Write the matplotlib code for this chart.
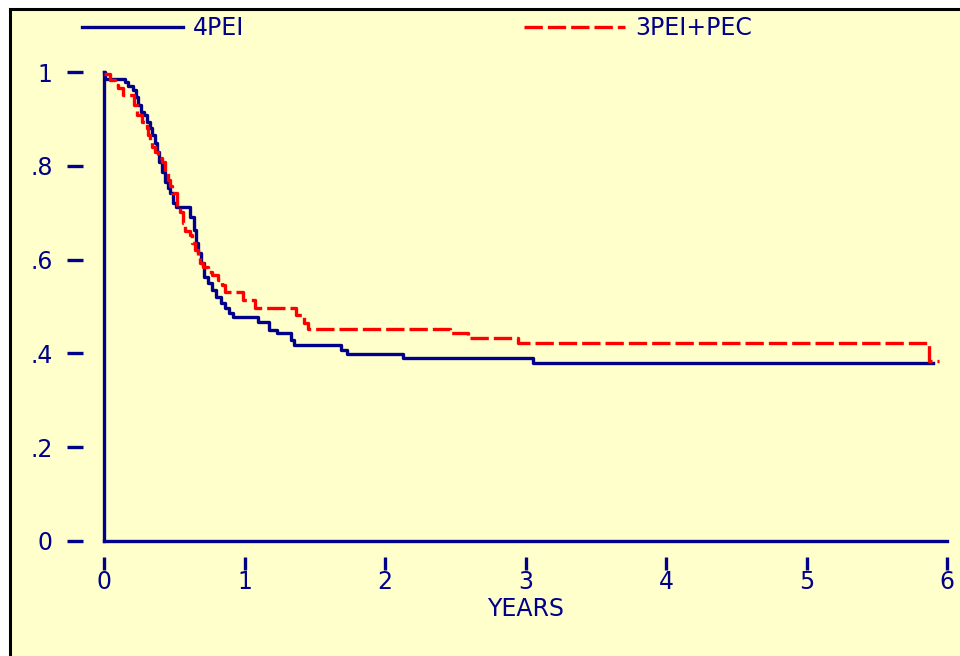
import matplotlib
matplotlib.use("Agg")
import matplotlib.pyplot as plt
from matplotlib.patches import Rectangle
from matplotlib.lines import Line2D

# Kaplan-Meier estimates (time in years, survival after each step)
pei4_t = [0, 0.005, 0.149, 0.171, 0.206, 0.228, 0.242, 0.263, 0.285, 0.306, 0.327, 0.342,
          0.363, 0.377, 0.391, 0.413, 0.434, 0.456, 0.47, 0.491, 0.512, 0.612, 0.641,
          0.655, 0.669, 0.69, 0.712, 0.74, 0.769, 0.797, 0.833, 0.861, 0.89, 0.918,
          1.096, 1.174, 1.231, 1.331, 1.352, 1.69, 1.73, 2.13, 3.05, 5.90]
pei4_s = [1.0, 0.985, 0.979, 0.970, 0.962, 0.946, 0.930, 0.915, 0.908, 0.893, 0.881, 0.866,
          0.849, 0.829, 0.808, 0.787, 0.765, 0.753, 0.742, 0.721, 0.712, 0.691, 0.663,
          0.635, 0.614, 0.593, 0.563, 0.550, 0.535, 0.520, 0.507, 0.497, 0.486, 0.478,
          0.467, 0.450, 0.443, 0.429, 0.418, 0.407, 0.399, 0.390, 0.380, 0.380]

pec_t = [0, 0.04, 0.078, 0.10, 0.137, 0.215, 0.233, 0.268, 0.29, 0.304, 0.315, 0.327,
         0.339, 0.363, 0.387, 0.411, 0.434, 0.458, 0.47, 0.482, 0.517, 0.541, 0.565,
         0.577, 0.612, 0.624, 0.648, 0.671, 0.683, 0.707, 0.742, 0.766, 0.814, 0.837,
         0.861, 0.99, 1.075, 1.37, 1.42, 1.45, 2.46, 2.59, 2.95, 5.87, 5.94]
pec_s = [0.996, 0.983, 0.972, 0.965, 0.951, 0.930, 0.908, 0.894, 0.889, 0.880, 0.866, 0.851,
         0.841, 0.830, 0.816, 0.809, 0.787, 0.770, 0.757, 0.741, 0.713, 0.702, 0.677,
         0.660, 0.652, 0.635, 0.620, 0.606, 0.592, 0.585, 0.574, 0.567, 0.556, 0.546,
         0.530, 0.514, 0.496, 0.482, 0.464, 0.453, 0.443, 0.433, 0.422, 0.384, 0.384]

x_ticks = [0, 1, 2, 3, 4, 5, 6]
y_ticks = [0, 0.2, 0.4, 0.6, 0.8, 1.0]
y_labels = ["0", ".2", ".4", ".6", ".8", "1"]

navy = "#00008B"
red = "#FF0000"
bg = "#FFFFCC"
fs = 17
lw = 2.4

plt.rcParams["font.family"] = ["DejaVu Sans"]

fig = plt.figure(figsize=(9.6, 6.56), dpi=100)
fig.patch.set_facecolor("white")
fig.patches.append(Rectangle((10 / 960, -0.1), 1.1, 1.1 - 9 / 656, transform=fig.transFigure,
                             facecolor=bg, edgecolor="black", linewidth=2.2, zorder=-10))

ax = fig.add_axes([104 / 960, (656 - 541) / 656, 843 / 960, 469 / 656])
ax.set_facecolor("none")
ax.set_xlim(0, 6)
ax.set_ylim(0, 1)

# axis lines through the origin
ax.axvline(0, color=navy, linewidth=lw, clip_on=False)
ax.axhline(0, color=navy, linewidth=lw, clip_on=False)

ax.plot(pei4_t, pei4_s, drawstyle="steps-post", color=navy, linewidth=lw, clip_on=False)
ax.plot(pec_t, pec_s, drawstyle="steps-post", color=red, linewidth=lw, dashes=(5.5, 1.5), clip_on=False)

# ticks detached from the plotting area
ax.spines["left"].set_position(("outward", 15))
ax.spines["bottom"].set_position(("outward", 11.5))
for s in ax.spines.values():
    s.set_visible(False)

ax.set_xticks(x_ticks)
ax.set_xticklabels([str(v) for v in x_ticks])
ax.set_yticks(y_ticks)
ax.set_yticklabels(y_labels)
ax.tick_params(axis="y", length=11.5, width=lw, pad=10.5, colors=navy, labelsize=fs)
ax.tick_params(axis="x", length=9.4, width=lw, pad=0, colors=navy, labelsize=fs)

ax.set_xlabel("YEARS", color=navy, fontsize=fs, labelpad=2)

handles = [Line2D([], [], color=navy, linewidth=lw),
           Line2D([], [], color=red, linewidth=lw, dashes=(5.5, 1.5))]
leg = ax.legend(handles, ["4PEI", "3PEI+PEC"], ncol=2, loc="center left",
                bbox_to_anchor=(82 / 960, 1 - 28 / 656), bbox_transform=fig.transFigure,
                frameon=False, fontsize=fs, handlelength=4.28, handletextpad=0.42,
                columnspacing=11.86, borderpad=0, borderaxespad=0)
for t in leg.get_texts():
    t.set_color(navy)

fig.savefig("out.png", dpi=100)
